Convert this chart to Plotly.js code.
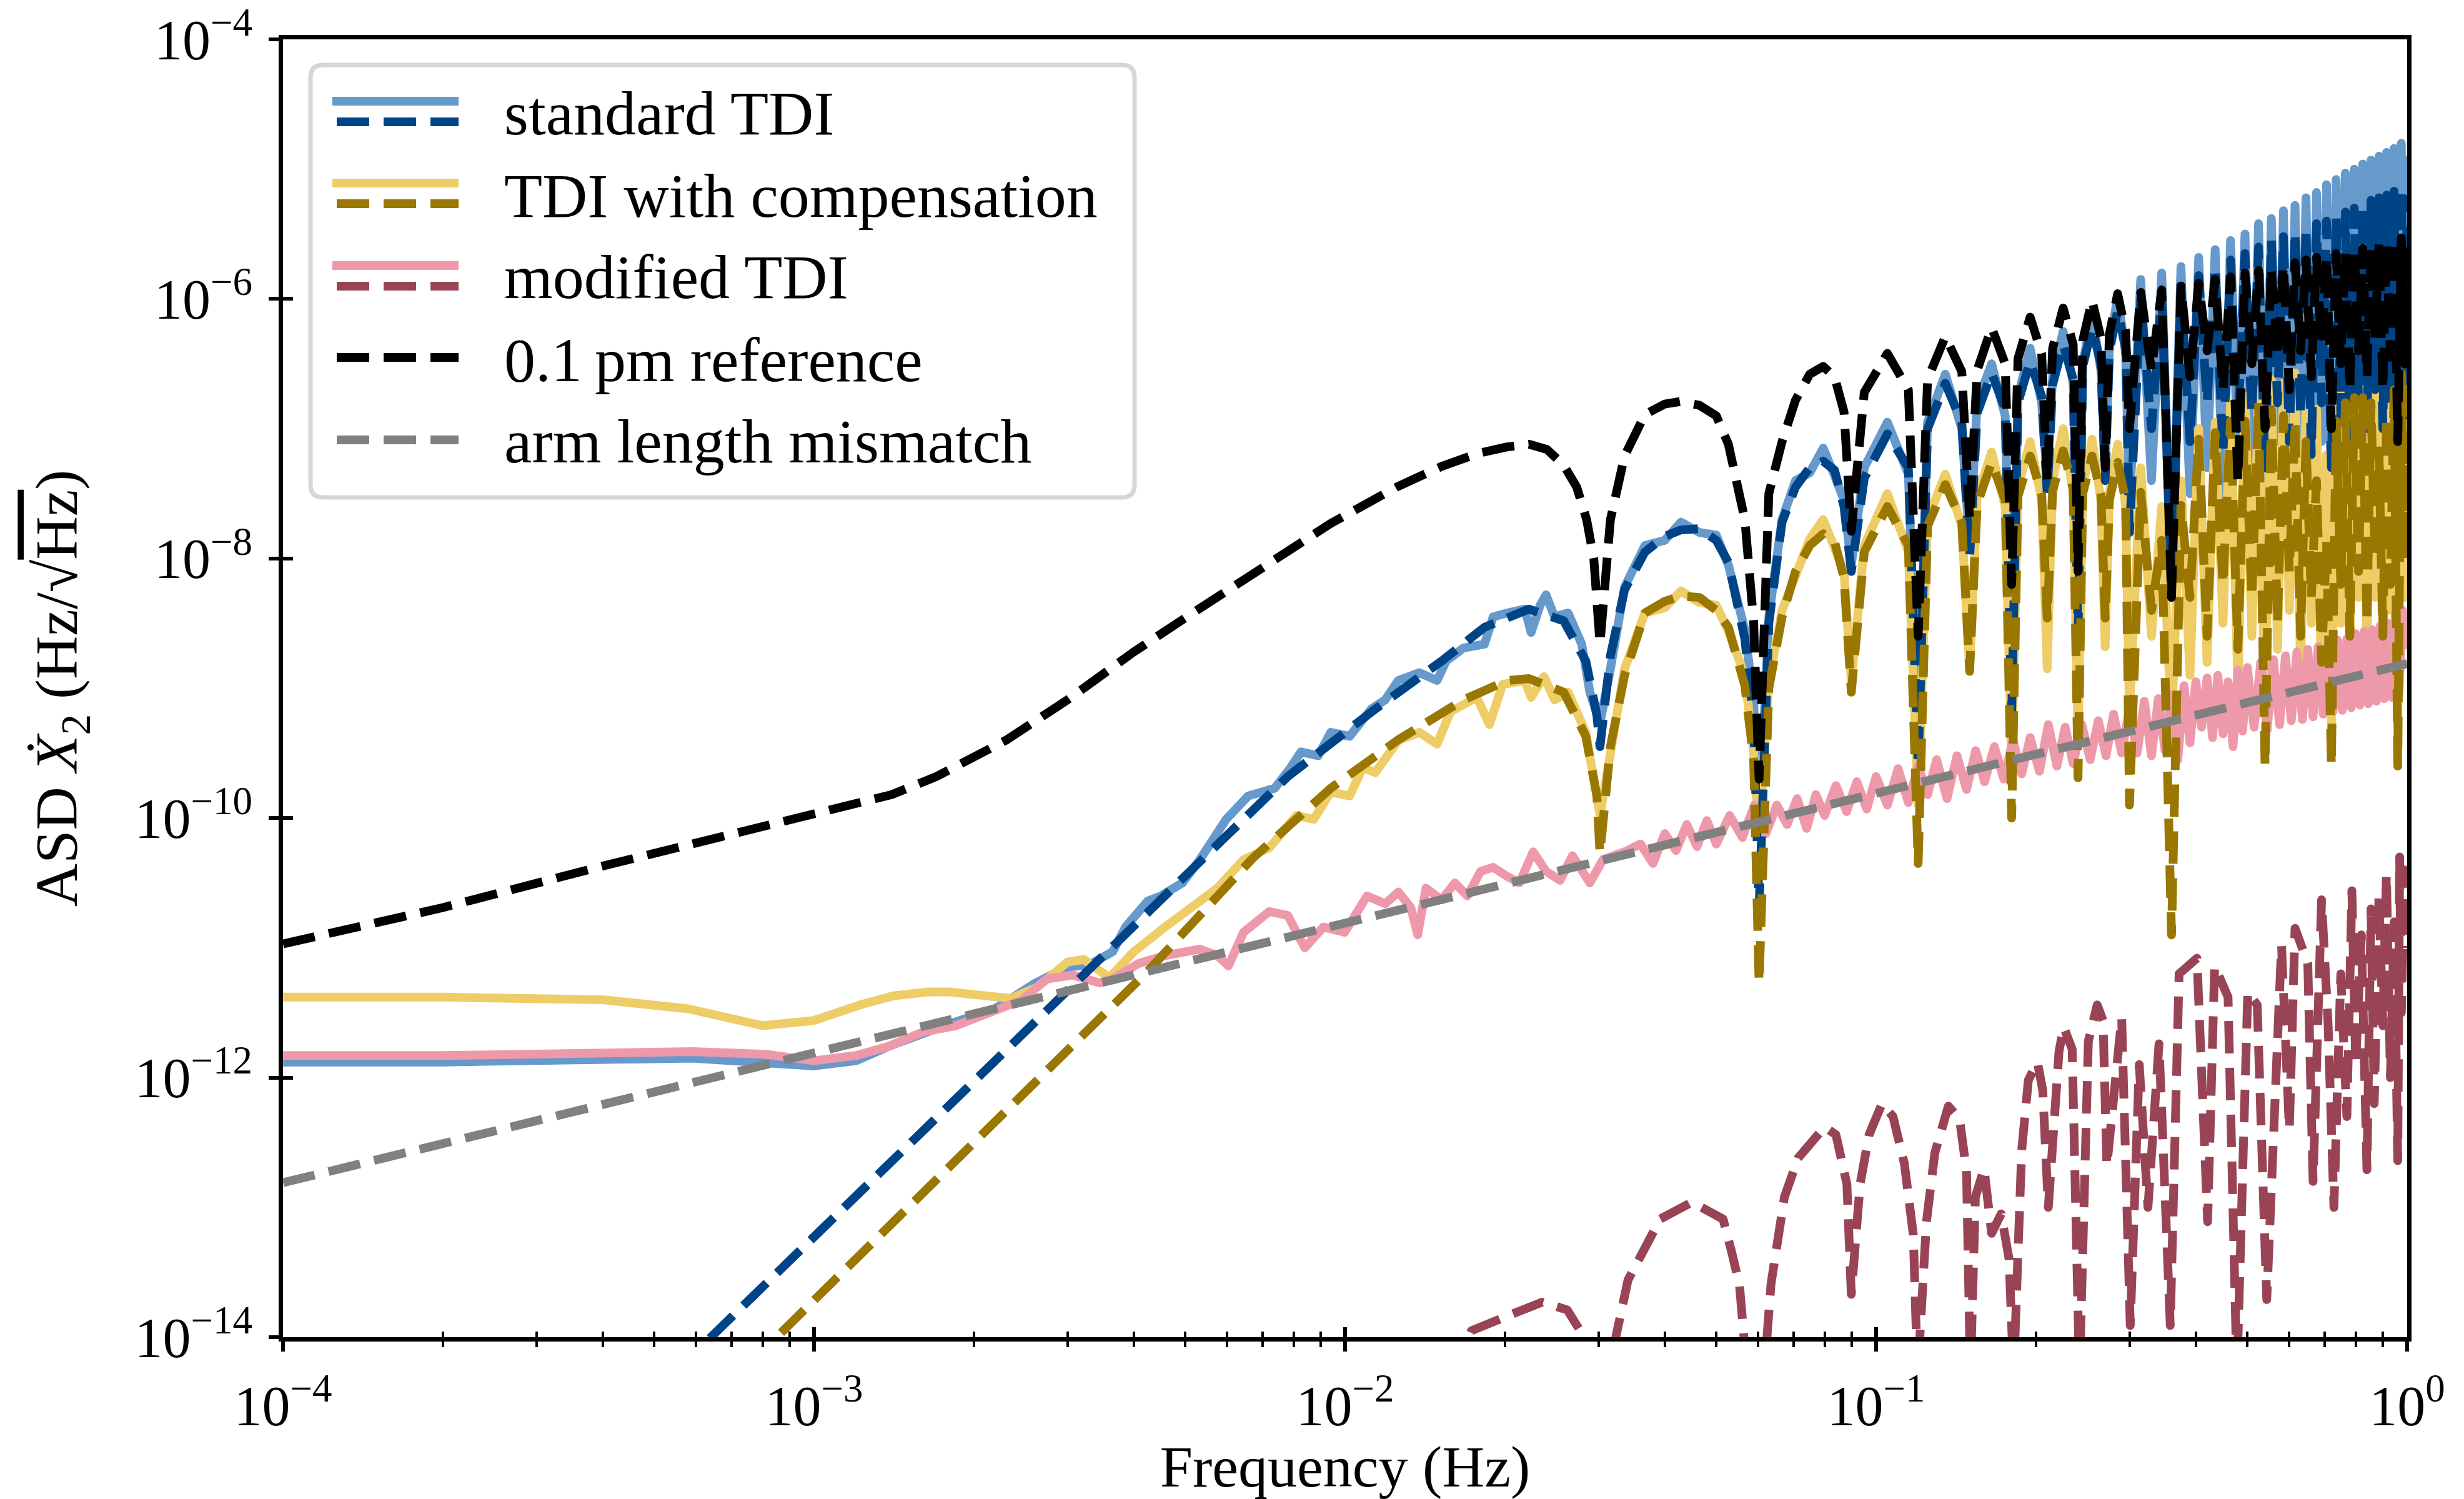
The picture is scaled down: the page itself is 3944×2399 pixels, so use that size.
<!DOCTYPE html>
<html>
<head>
<meta charset="utf-8">
<script src="https://cdn.plot.ly/plotly-3.0.1.min.js"></script>
<style>
  html, body { margin: 0; padding: 0; background: #ffffff; }
  #chart { width: 3944px; height: 2399px; }
  .js-line { stroke-linejoin: round !important; }
</style>
</head>
<body>
<div id="chart"></div>
<script>
// ---------------- tick labels ----------------
const xTickVals = [1e-4, 1e-3, 1e-2, 1e-1, 1];
const xTickText = ['10<sup>\u22124</sup>', '10<sup>\u22123</sup>', '10<sup>\u22122</sup>', '10<sup>\u22121</sup>', '10<sup>0</sup>'];
const xMinorVals = [2e-4,3e-4,4e-4,5e-4,6e-4,7e-4,8e-4,9e-4,
                    2e-3,3e-3,4e-3,5e-3,6e-3,7e-3,8e-3,9e-3,
                    2e-2,3e-2,4e-2,5e-2,6e-2,7e-2,8e-2,9e-2,
                    0.2,0.3,0.4,0.5,0.6,0.7,0.8,0.9];
const yTickVals = [1e-14, 1e-12, 1e-10, 1e-8, 1e-6, 1e-4];
const yTickText = ['10<sup>\u221214</sup>', '10<sup>\u221212</sup>', '10<sup>\u221210</sup>', '10<sup>\u22128</sup>', '10<sup>\u22126</sup>', '10<sup>\u22124</sup>'];

// ---------------- legend labels ----------------
const legendLabels = ['standard TDI', 'TDI with compensation', 'modified TDI', '0.1\u2009pm reference', 'arm length mismatch'];

// ---------------- data: frequency (Hz) and log10(ASD) ----------------
// shared frequency grid of the oscillating part (nulls every ~0.03 Hz)
const fArchA = [0.0302,0.0316,0.0336,0.0367,0.0400,0.0429,0.0465,0.0500,0.0527,0.0566,0.0588,0.0602,0.0628,0.0665,0.0705,0.0750,0.0795,0.0835,0.0870,0.0898];
const fArchB = [0.095,0.105,0.115,0.120,0.125,0.135,0.145,0.150,0.155,0.165,0.175,0.180,0.185,0.195,0.205,0.210,0.215,0.225,0.235,0.240,0.245,0.255,0.265,0.270,0.275,0.285,0.295,0.300];
const fArchC = [0.315,0.330,0.345,0.360,0.375,0.390,0.405,0.420,0.435,0.450,0.465,0.480,0.495,0.510,0.525,0.540,0.555,0.570,0.585,0.600,0.615,0.630,0.645,0.660,0.675,0.690,0.705,0.720,0.735,0.750,0.765,0.780,0.795,0.810,0.825,0.840,0.855,0.870,0.885,0.900,0.915,0.930,0.945,0.960,0.975,0.990,1.000];

// 0.1 pm reference (black dashed)
const refLowF   = [1e-4,2e-4,4e-4,7e-4,1e-3,1.4e-3,1.7e-3,2.3e-3,3e-3,4e-3,5.3e-3,7e-3,9.4e-3,0.0125,0.0152,0.0178,0.0202,0.0222,0.0240,0.0258,0.0273,0.0285,0.0294];
const refLowExp = [-10.97,-10.69,-10.37,-10.13,-9.98,-9.82,-9.68,-9.40,-9.09,-8.72,-8.39,-8.06,-7.73,-7.45,-7.29,-7.19,-7.14,-7.12,-7.16,-7.28,-7.45,-7.70,-8.00];
const refExpA = [-8.66,-7.70,-7.21,-6.89,-6.81,-6.79,-6.82,-6.90,-7.12,-7.70,-8.49,-9.70,-7.50,-7.10,-6.78,-6.58,-6.52,-6.60,-6.87,-7.79];
const refExpB = [-6.72,-6.42,-6.70,-8.60,-6.62,-6.29,-6.56,-7.70,-6.55,-6.22,-6.50,-8.20,-6.46,-6.14,-6.42,-7.40,-6.38,-6.07,-6.35,-8.10,-6.32,-6.01,-6.30,-7.30,-6.27,-5.96,-6.25,-7.00];
const refExpC = [-5.95,-6.55,-5.93,-8.30,-5.90,-6.60,-5.88,-6.40,-5.85,-6.70,-5.83,-7.40,-5.80,-6.50,-5.78,-7.00,-5.76,-6.45,-5.74,-6.70,-5.72,-6.40,-5.70,-6.60,-5.68,-6.35,-5.67,-7.00,-5.65,-6.50,-5.64,-6.70,-5.62,-6.40,-5.61,-6.60,-5.60,-6.30,-5.58,-6.70,-5.57,-6.45,-5.55,-7.10,-5.53,-6.50,-5.60];

// standard TDI model (dark blue dashed)
const stdModelLowF   = [5.5e-4,4.2e-3,5.97e-3,7.8e-3,0.0114,0.0152,0.0183,0.0222,0.0258,0.0284,0.0298];
const stdModelLowExp = [-14.26,-10.73,-10.14,-9.68,-9.16,-8.79,-8.53,-8.39,-8.48,-8.79,-9.21];
const stdModelExpA = [-9.45,-8.75,-8.24,-7.95,-7.83,-7.78,-7.77,-7.86,-8.03,-8.62,-9.25,-10.70,-8.50,-7.72,-7.45,-7.30,-7.25,-7.32,-7.60,-8.10];
const stdModelExpB = [-7.38,-7.04,-7.30,-9.60,-7.00,-6.65,-6.95,-8.00,-6.88,-6.57,-6.85,-9.20,-6.80,-6.48,-6.75,-7.50,-6.66,-6.35,-6.62,-8.60,-6.52,-6.22,-6.50,-7.40,-6.40,-6.09,-6.38,-7.80];
const stdModelExpC = [-6.00,-7.00,-5.95,-8.30,-5.90,-7.10,-5.82,-6.80,-5.75,-7.20,-5.70,-7.00,-5.65,-6.90,-5.60,-7.30,-5.55,-6.80,-5.52,-7.10,-5.48,-6.90,-5.45,-7.20,-5.42,-6.80,-5.40,-7.30,-5.36,-6.90,-5.33,-7.10,-5.30,-6.80,-5.27,-7.00,-5.24,-6.70,-5.22,-7.00,-5.20,-6.80,-5.17,-7.20,-5.15,-6.90,-5.20];

// standard TDI simulation (light blue solid)
const stdSimLowF   = [1e-4,2e-4,5.9e-4,8.1e-4,1.0e-3,1.2e-3,1.38e-3,1.76e-3,2.19e-3,2.59e-3,2.99e-3,3.3e-3,3.65e-3,3.86e-3,4.25e-3,4.5e-3,4.94e-3,5.33e-3,5.97e-3,6.57e-3,7.37e-3,7.9e-3,8.26e-3,8.9e-3,9.4e-3,0.0102,0.0112,0.0119,0.0126,0.0138,0.0149,0.0155,0.0167,0.0183,0.0190,0.0202,0.0218,0.0224,0.0233,0.0239,0.0248,0.0263,0.0279,0.0289];
const stdSimLowExp = [-11.88,-11.88,-11.85,-11.89,-11.91,-11.87,-11.76,-11.60,-11.47,-11.28,-11.15,-11.13,-11.03,-10.84,-10.64,-10.60,-10.50,-10.32,-10.01,-9.83,-9.77,-9.61,-9.49,-9.52,-9.34,-9.37,-9.16,-9.09,-8.94,-8.88,-8.94,-8.79,-8.69,-8.66,-8.45,-8.42,-8.39,-8.57,-8.36,-8.28,-8.45,-8.42,-8.66,-9.03];
const stdSimExpA = [-9.27,-8.85,-8.22,-7.90,-7.86,-7.72,-7.80,-7.82,-8.05,-8.55,-9.10,-10.10,-8.45,-7.70,-7.40,-7.34,-7.15,-7.36,-7.55,-8.05];
const stdSimExpB = [-7.30,-6.95,-7.35,-9.40,-6.95,-6.58,-7.00,-7.90,-6.80,-6.50,-6.90,-9.00,-6.75,-6.38,-6.80,-7.40,-6.60,-6.25,-6.65,-8.40,-6.50,-6.12,-6.55,-7.30,-6.38,-5.98,-6.42,-7.60];
const stdSimExpC = [-5.85,-7.40,-5.80,-8.20,-5.75,-7.50,-5.68,-7.30,-5.62,-7.55,-5.55,-7.20,-5.50,-7.40,-5.42,-7.60,-5.38,-7.10,-5.32,-7.45,-5.28,-7.20,-5.22,-7.50,-5.18,-7.10,-5.12,-7.60,-5.08,-7.20,-5.03,-7.40,-5.00,-7.00,-4.96,-7.30,-4.93,-7.00,-4.90,-7.30,-4.87,-7.10,-4.84,-7.50,-4.80,-7.20,-4.90];

// TDI with compensation model (dark gold dashed)
const compModelLowF   = [7.5e-4,2.9e-3,4.25e-3,6.7e-3,9.4e-3,0.01256,0.0167,0.0202,0.0222,0.0258,0.0284,0.0298];
const compModelLowExp = [-14.22,-11.86,-11.18,-10.31,-9.77,-9.40,-9.09,-8.94,-8.925,-9.03,-9.37,-9.83];
const compModelExpA = [-10.27,-9.45,-8.90,-8.42,-8.33,-8.29,-8.30,-8.40,-8.53,-8.98,-9.55,-11.27,-9.00,-8.45,-8.10,-7.90,-7.81,-7.87,-8.15,-9.03];
const compModelExpB = [-7.95,-7.60,-7.90,-10.35,-7.75,-7.43,-7.72,-8.87,-7.58,-7.26,-7.55,-10.00,-7.52,-7.21,-7.50,-8.46,-7.48,-7.17,-7.46,-9.69,-7.50,-7.21,-7.50,-8.46,-7.55,-7.26,-7.55,-9.90];
const compModelExpC = [-7.49,-8.40,-7.86,-10.90,-7.59,-8.30,-7.08,-8.60,-7.03,-8.20,-6.94,-8.70,-6.94,-8.30,-6.80,-9.60,-6.85,-8.50,-6.90,-8.10,-6.94,-8.60,-7.10,-8.30,-7.40,-8.80,-7.86,-9.60,-6.94,-8.20,-6.80,-8.60,-6.76,-8.10,-6.76,-8.50,-6.80,-8.00,-7.17,-8.60,-6.90,-8.20,-6.70,-9.60,-6.57,-8.00,-6.60];

// TDI with compensation simulation (yellow solid)
const compSimLowF   = [1e-4,2e-4,4e-4,5.8e-4,8e-4,1e-3,1.22e-3,1.41e-3,1.64e-3,1.8e-3,2.35e-3,2.64e-3,3.0e-3,3.22e-3,3.6e-3,4.0e-3,4.58e-3,5.14e-3,5.75e-3,6.44e-3,7.2e-3,8.1e-3,8.73e-3,9.4e-3,0.0102,0.0108,0.0114,0.0126,0.0138,0.0149,0.0158,0.0177,0.0187,0.0198,0.0218,0.0224,0.0237,0.0248,0.0263,0.0284,0.0294];
const compSimLowExp = [-11.38,-11.38,-11.40,-11.47,-11.60,-11.56,-11.44,-11.37,-11.34,-11.34,-11.39,-11.30,-11.11,-11.09,-11.23,-11.03,-10.84,-10.69,-10.54,-10.32,-10.23,-9.98,-10.01,-9.80,-9.83,-9.61,-9.65,-9.40,-9.34,-9.43,-9.18,-9.07,-9.28,-8.97,-8.94,-9.07,-8.91,-9.09,-9.03,-9.34,-9.68];
const compSimExpA = [-9.98,-9.50,-8.85,-8.42,-8.38,-8.25,-8.34,-8.36,-8.56,-8.90,-9.50,-10.15,-8.95,-8.40,-8.12,-7.85,-7.70,-7.92,-8.10,-8.95];
const compSimExpB = [-7.90,-7.50,-7.95,-9.90,-7.70,-7.35,-7.75,-8.85,-7.52,-7.18,-7.60,-9.60,-7.45,-7.10,-7.55,-8.85,-7.40,-7.00,-7.50,-9.40,-7.45,-7.08,-7.55,-8.68,-7.50,-7.12,-7.60,-9.20];
const compSimExpC = [-7.30,-8.60,-7.60,-9.30,-7.40,-8.90,-7.00,-8.80,-6.95,-8.50,-6.80,-9.00,-6.75,-8.60,-6.70,-9.20,-6.62,-8.70,-6.65,-8.40,-6.57,-8.90,-6.75,-8.50,-6.85,-9.10,-7.20,-9.30,-6.70,-8.50,-6.50,-8.90,-6.45,-8.30,-6.39,-8.80,-6.40,-8.30,-6.60,-8.90,-6.45,-8.40,-6.30,-9.30,-6.20,-8.30,-6.30];

// modified TDI simulation (pink solid)
const modSimF = [1e-4,2e-4,5.9e-4,8.1e-4,1e-3,1.2e-3,1.38e-3,1.6e-3,1.85e-3,2.24e-3,2.47e-3,2.74e-3,3.07e-3,3.45e-3,3.65e-3,4.09e-3,4.58e-3,5.33e-3,5.75e-3,6.03e-3,6.44e-3,7.2e-3,7.8e-3,8.4e-3,9.1e-3,9.98e-3,0.011,0.0119,0.0126,0.0133,0.0137,0.0142,0.0152,0.0161,0.017,0.018,0.019,0.0202,0.0213,0.0226,0.0239,0.0254,0.0268,0.0289,0.0306,0.0336,
  0.036,0.038,0.040,0.042,0.044,0.046,0.048,0.050,0.053,0.056,0.059,0.062,0.065,0.068,0.071,0.074,0.077,0.080,0.084,0.088,0.092,0.096,0.100,0.105,0.110,0.115,0.120,0.125,0.130,0.136,0.142,0.148,0.154,0.160,0.167,0.174,0.181,0.188,0.195,0.203,0.211,0.219,0.227,0.235,0.244,0.253,0.262,0.271,0.280,0.290,0.300,
  0.31,0.32,0.33,0.34,0.35,0.36,0.37,0.38,0.39,0.40,0.41,0.42,0.43,0.44,0.45,0.46,0.47,0.48,0.49,0.50,
  0.515,0.53,0.545,0.56,0.575,0.59,0.605,0.62,0.635,0.65,0.665,0.68,0.695,0.71,0.725,0.74,0.755,0.77,0.785,0.80,0.815,0.83,0.845,0.86,0.875,0.89,0.905,0.92,0.935,0.95,0.965,0.98,1.0];
const modSimExp = [-11.83,-11.83,-11.80,-11.82,-11.87,-11.83,-11.76,-11.65,-11.60,-11.47,-11.40,-11.24,-11.21,-11.27,-11.24,-11.12,-11.06,-11.01,-11.06,-11.14,-10.88,-10.72,-10.75,-11.00,-10.84,-10.88,-10.60,-10.66,-10.57,-10.69,-10.90,-10.54,-10.63,-10.50,-10.60,-10.41,-10.38,-10.45,-10.50,-10.26,-10.41,-10.48,-10.29,-10.50,-10.32,-10.26,
  -10.20,-10.35,-10.12,-10.25,-10.05,-10.22,-10.02,-10.20,-9.98,-10.15,-9.90,-10.12,-9.90,-10.05,-9.85,-10.08,-9.82,-9.98,-9.75,-9.95,-9.72,-9.93,-9.68,-9.90,-9.62,-9.88,-9.60,-9.82,-9.55,-9.85,-9.52,-9.78,-9.48,-9.72,-9.45,-9.70,-9.40,-9.66,-9.38,-9.64,-9.28,-9.60,-9.30,-9.58,-9.28,-9.55,-9.25,-9.52,-9.20,-9.50,-9.15,
  -9.50,-9.10,-9.52,-9.08,-9.48,-9.05,-9.55,-8.98,-9.42,-8.95,-9.30,-8.92,-9.38,-8.90,-9.35,-8.95,-9.45,-8.86,-9.33,-8.84,
  -9.30,-8.80,-9.32,-8.78,-9.28,-8.75,-9.25,-8.72,-9.24,-8.70,-9.22,-8.68,-9.20,-8.65,-9.18,-8.63,-9.17,-8.62,-9.15,-8.58,-9.13,-8.56,-9.12,-8.55,-9.10,-8.52,-9.08,-8.50,-9.07,-8.42,-9.05,-8.40,-8.70];

// modified TDI model (dark red dashed)
const modModelF = [0.0160,0.0173,0.0207,0.0235,0.0262,0.0282,0.0296,
  0.0312,0.0341,0.0392,0.0450,0.0515,0.0535,0.0553,0.0572,
  0.0615,0.0634,0.0672,0.0713,0.0800,0.0840,0.0881,0.0898,
  0.0933,0.0970,0.1026,0.1076,0.1130,0.1175,0.1197,
  0.1244,0.1290,0.1368,0.1436,0.1480,0.1505,
  0.1538,0.1597,0.1650,0.1720,0.1780,0.1815,
  0.1880,0.1935,0.2013,0.2060,0.2110,
  0.2210,0.2255,0.2340,0.2415,
  0.2510,0.2608,0.2675,0.2720,
  0.2900,0.3010,0.3130,0.3250,0.3410,0.3580,
  0.3720,0.4020,0.4210,0.4340,0.4600,0.4780,0.5010,0.5220,0.5440,
  0.580,0.600,0.615,0.650,0.665,0.690,0.710,0.728,0.750,0.770,0.787,0.800,0.820,0.840,0.855,0.867,0.885,0.900,0.914,0.930,0.945,0.960,0.968,0.975,0.990,1.000];
const modModelExp = [-14.3,-13.95,-13.82,-13.73,-13.79,-14.0,-14.4,
  -14.3,-13.56,-13.09,-12.96,-13.09,-13.35,-13.60,-14.3,
  -14.3,-13.59,-12.92,-12.62,-12.38,-12.44,-12.82,-13.67,
  -12.82,-12.44,-12.20,-12.30,-12.66,-13.21,-14.3,
  -13.11,-12.58,-12.22,-12.32,-12.72,-14.3,
  -12.92,-12.70,-13.20,-13.05,-13.40,-14.3,
  -12.56,-12.02,-11.88,-12.10,-13.00,
  -11.80,-11.61,-11.78,-14.3,
  -11.72,-11.44,-11.56,-12.68,
  -11.54,-13.91,-11.90,-13.00,-11.74,-13.91,
  -11.20,-11.08,-13.11,-11.14,-11.38,-14.3,-11.34,-11.44,-13.71,
  -10.98,-12.40,-10.85,-11.12,-12.80,-10.63,-11.60,-13.00,-11.20,-12.30,-10.56,-11.90,-10.90,-12.71,-10.70,-12.20,-10.60,-11.60,-10.43,-12.00,-10.80,-12.64,-10.30,-11.50,-10.40,-11.00];

// arm length mismatch (grey dashed)
const mismatchF = [1e-4, 1];
const mismatchASD = [1.55e-13, 1.55e-9];

// ---------------- build traces ----------------
const FONT = "'Liberation Serif', 'DejaVu Serif', serif";
const DASH = '52px,23px';
const LW = 14;
const C = {lb:'#6699CC', db:'#004488', yl:'#EECC66', gd:'#997700', pk:'#EE99AA', rd:'#994455', bk:'#000000', gr:'#808080'};
const asd = arr => arr.map(e => Math.pow(10, e));
const cat = (...a) => [].concat(...a);

function line(x, y, color, dash){
  return {type:'scatter', mode:'lines', x:x, y:y, hoverinfo:'skip', showlegend:false,
          line:{color:color, width:LW, dash:dash || 'solid'}};
}

const traces = [
  line(cat(stdSimLowF, fArchA, fArchB, fArchC), asd(cat(stdSimLowExp, stdSimExpA, stdSimExpB, stdSimExpC)), C.lb),
  line(cat(compSimLowF, fArchA, fArchB, fArchC), asd(cat(compSimLowExp, compSimExpA, compSimExpB, compSimExpC)), C.yl),
  line(modSimF, asd(modSimExp), C.pk),
  line(cat(stdModelLowF, fArchA, fArchB, fArchC), asd(cat(stdModelLowExp, stdModelExpA, stdModelExpB, stdModelExpC)), C.db, DASH),
  line(cat(compModelLowF, fArchA, fArchB, fArchC), asd(cat(compModelLowExp, compModelExpA, compModelExpB, compModelExpC)), C.gd, DASH),
  line(modModelF, asd(modModelExp), C.rd, DASH),
  line(cat(refLowF, fArchA, fArchB, fArchC), asd(cat(refLowExp, refExpA, refExpB, refExpC)), C.bk, DASH),
  line(mismatchF, mismatchASD, C.gr, DASH),
  // empty helpers so the overlay axes (inner half of the ticks) get drawn
  {type:'scatter', mode:'lines', x:[], y:[], xaxis:'x2', yaxis:'y', showlegend:false, hoverinfo:'skip'},
  {type:'scatter', mode:'lines', x:[], y:[], xaxis:'x', yaxis:'y2', showlegend:false, hoverinfo:'skip'}
];

// ---------------- legend (drawn by hand: two line samples per entry) ----------------
const W = 3944, H = 2399, L = 453, R = 3853, T = 63, B = 2140;
const px = v => (v - L) / (R - L);
const py = v => (B - v) / (B - T);
const xl = px(497), xr = px(1816), yt = py(104), yb = py(796);
const rx = 20 / (R - L), ry = 20 / (B - T);
const boxPath = `M ${xl+rx},${yt} L ${xr-rx},${yt} Q ${xr},${yt} ${xr},${yt-ry} L ${xr},${yb+ry} Q ${xr},${yb} ${xr-rx},${yb} L ${xl+rx},${yb} Q ${xl},${yb} ${xl},${yb+ry} L ${xl},${yt-ry} Q ${xl},${yt} ${xl+rx},${yt} Z`;

const shapes = [
  {type:'path', xref:'paper', yref:'paper', path: boxPath, fillcolor:'rgba(255,255,255,0.8)', line:{color:'#d6d6d6', width:7}, layer:'above'}
];
function sample(yPix, color, dashed){
  shapes.push({type:'line', xref:'paper', yref:'paper', x0:px(dashed ? 539 : 532), x1:px(734), y0:py(yPix), y1:py(yPix),
               line:{color:color, width:LW, dash: dashed ? DASH : 'solid'}, layer:'above'});
}
sample(162, C.lb, false); sample(195, C.db, true);
sample(293, C.yl, false); sample(326, C.gd, true);
sample(425, C.pk, false); sample(458, C.rd, true);
sample(572, C.bk, true);
sample(704, C.gr, true);

const textRows = [182, 313, 443, 576, 706];
const annotations = legendLabels.map((t, i) => ({
  text: t, xref:'paper', yref:'paper', x: px(805), y: py(textRows[i]), xanchor:'left', yanchor:'middle',
  showarrow:false, font:{family:FONT, size:100, color:'#000'}
}));

// ---------------- layout ----------------
const baseX = {type:'log', range:[-4, 0], showgrid:false, zeroline:false};
const baseY = {type:'log', range:[-14, -4], showgrid:false, zeroline:false};
const layout = {
  width: W, height: H,
  margin: {l: L, r: W - R, t: T, b: H - B, pad: 0},
  paper_bgcolor: '#ffffff', plot_bgcolor: '#ffffff',
  showlegend: false,
  font: {family: FONT, color: '#000', size: 90},
  xaxis: Object.assign({}, baseX, {
    tickmode:'array', tickvals: xTickVals, ticktext: xTickText,
    ticks:'outside', ticklen:16, tickwidth:6, tickcolor:'#000',
    showline:true, linewidth:7, linecolor:'#000', mirror:true,
    tickfont:{family:FONT, size:90, color:'#000'}, ticklabelstandoff: 10, ticklabeloverflow:'allow',
    minor:{tickmode:'array', tickvals: xMinorVals, ticks:'outside', ticklen:9, tickwidth:4, tickcolor:'#000', showgrid:false},
    title:{text:'Frequency (Hz)', font:{family:FONT, size:94, color:'#000'}, standoff: 56}
  }),
  xaxis2: Object.assign({}, baseX, {
    overlaying:'x', anchor:'y', side:'bottom',
    tickmode:'array', tickvals: xTickVals, ticks:'inside', ticklen:16, tickwidth:6, tickcolor:'#000',
    showticklabels:false, showline:false,
    minor:{tickmode:'array', tickvals: xMinorVals, ticks:'inside', ticklen:9, tickwidth:4, tickcolor:'#000', showgrid:false}
  }),
  yaxis: Object.assign({}, baseY, {
    tickmode:'array', tickvals: yTickVals, ticktext: yTickText,
    ticks:'outside', ticklen:16, tickwidth:6, tickcolor:'#000',
    showline:true, linewidth:7, linecolor:'#000', mirror:true,
    tickfont:{family:FONT, size:90, color:'#000'}, ticklabelstandoff: 8, ticklabeloverflow:'allow',
    title:{text:'ASD <i>\u1E8A</i><sub>2</sub> (Hz/\u221A<span style="text-decoration:overline">Hz</span>)', font:{family:FONT, size:96, color:'#000'}, standoff: 62}
  }),
  yaxis2: Object.assign({}, baseY, {
    overlaying:'y', anchor:'x', side:'left',
    tickmode:'array', tickvals: yTickVals, ticks:'inside', ticklen:16, tickwidth:6, tickcolor:'#000',
    showticklabels:false, showline:false
  }),
  shapes: shapes,
  annotations: annotations
};

Plotly.newPlot('chart', traces, layout, {displayModeBar:false, staticPlot:true});
</script>
</body>
</html>
